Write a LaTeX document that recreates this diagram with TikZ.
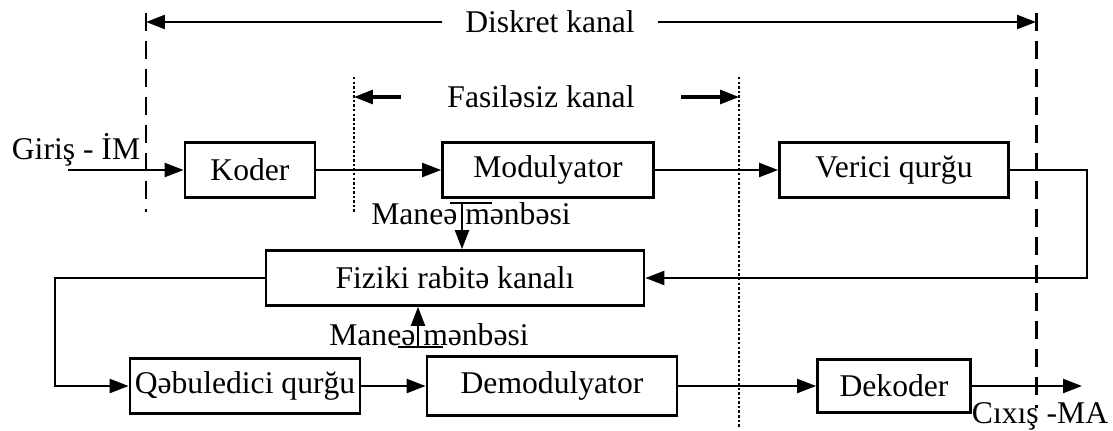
\documentclass[tikz,border=0pt]{standalone}
\usepackage{fontspec}
\setmainfont{Liberation Serif}
\usepackage{tikz}
\usetikzlibrary{calc,arrows.meta}
\newcommand{\yazi}{\fontsize{18}{20}\selectfont}
\tikzset{
  blok/.style={draw=black, line width=1.6pt, minimum height=1.1cm, inner sep=0pt, font=\yazi},
  xett/.style={draw=black, line width=1.3pt},
  ox/.style={xett, -{Triangle[length=0.38cm,width=0.28cm]}},
  qiriq/.style={draw=black, line width=1.7pt, dash pattern=on 0.36cm off 0.2cm},
  noqte/.style={draw=black, line width=1.6pt, dash pattern=on 1.4pt off 1.2pt},
  lab/.style={font=\yazi, inner sep=0pt},
}

\begin{document}
\begin{tikzpicture}[x=0.02cm, y=-0.02cm]
  \useasboundingbox (0,0) rectangle (1113,430);

  % bloklar
  \node[blok, minimum width=2.6cm] (koder) at (250,170) {Koder};
  \node[blok, minimum width=4.22cm] (modul) at (548,170) {Modulyator};
  \node[blok, minimum width=4.58cm] (verici) at (894,170) {Verici qurğu};
  \node[blok, minimum width=7.56cm] (fiziki) at (455,278) {Fiziki rabitə kanalı};
  \node[blok, minimum width=4.6cm] (qebul) at (245,386) {Qəbuledici qurğu};
  \node[blok, minimum width=5.0cm, minimum height=1.18cm] (demod) at (552,386) {Demodulyator};
  \node[blok, minimum width=3.06cm, minimum height=1.06cm] (dekoder) at (894,386) {Dekoder};

  % kanal sərhədləri
  \coordinate (d1) at (146,13);
  \coordinate (d2) at (1036,13);
  \coordinate (n1) at (354,77);
  \coordinate (n2) at (739,77);
  \draw[qiriq] (d1) -- (146,212);
  \draw[qiriq] (d2) -- (1036,408);
  \draw[noqte] (n1) -- (354,212);
  \draw[noqte] (n2) -- (739,428);

  \node[lab, inner xsep=0.45cm] (diskret) at (550,22) {Diskret kanal};
  \draw[ox] (diskret.west) -- (d1 |- diskret);
  \draw[ox] (diskret.east) -- (d2 |- diskret);
  \node[lab, inner xsep=0.92cm] (fasil) at (541,97) {Fasiləsiz kanal};
  \draw[ox, line width=1.8pt] (fasil.west) -- (n1 |- fasil);
  \draw[ox, line width=1.8pt] (fasil.east) -- (n2 |- fasil);

  % siqnal yolu
  \coordinate (giris) at (68,170);
  \coordinate (cixis) at (1082,386);
  \coordinate (sag) at (1087,278);
  \coordinate (sol) at (55,386);
  \draw[ox] (giris) -- (koder);
  \draw[ox] (koder) -- (modul);
  \draw[ox] (modul) -- (verici);
  \draw[ox] (verici.east) -| (sag) -- (fiziki.east);
  \draw[ox] (fiziki.west) -| (sol) -- (qebul.west);
  \draw[ox] (qebul) -- (demod);
  \draw[ox] (demod) -- (dekoder);
  \draw[ox] (dekoder) -- (cixis);
  \node[lab] (giristxt) at (76,150) {Giriş - İM};
  \node[lab] (cixistxt) at (1040,416) {Cıxış -MA};

  % maneə mənbələri
  \node[lab] (maneust) at (471,214) {Maneə mənbəsi};
  \node[lab] (manealt) at (429,335) {Maneə mənbəsi};
  \coordinate (m1) at (462,203);
  \coordinate (m2) at (418,347);
  \draw[xett] ($(m1)+(-12,0)$) -- ($(m1)+(30,0)$);
  \draw[ox] (m1) -- (m1 |- fiziki.north);
  \draw[xett] ($(m2)+(-20,0)$) -- ($(m2)+(25,0)$);
  \draw[ox] (m2) -- (m2 |- fiziki.south);
\end{tikzpicture}
\end{document}
